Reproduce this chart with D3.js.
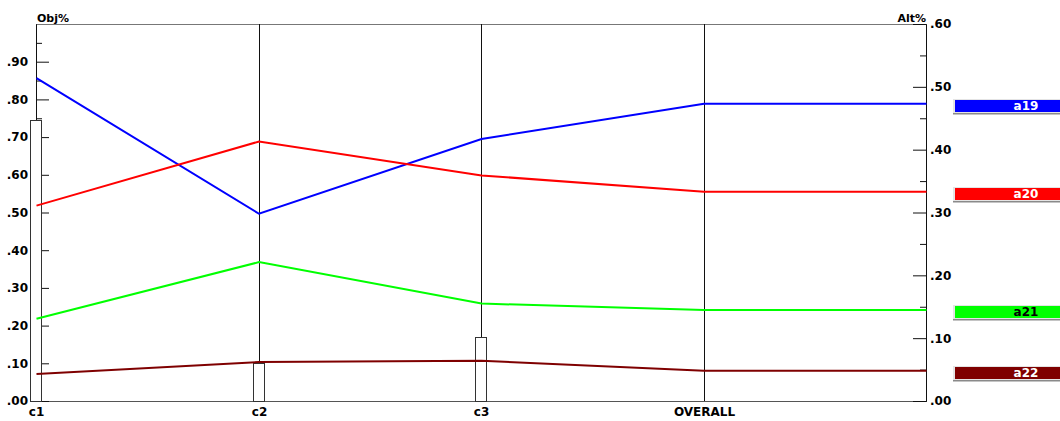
<!DOCTYPE html>
<html><head><meta charset="utf-8">
<script src="https://cdn.jsdelivr.net/npm/d3@7"></script>
<style>
body{margin:0;background:#fff;}
svg{display:block;}
text{font-family:"DejaVu Sans",sans-serif;font-weight:bold;}
</style>
</head><body>
<svg id="chart" width="1060" height="421"></svg>
<script>
// ---- data ----
const categories = ["c1", "c2", "c3", "OVERALL"];
const criteriaWeights = [0.745, 0.10, 0.17];           // Obj% bars (c1..c3)
const seriesNames = ["a19", "a20", "a21", "a22"];
const a19 = [0.514, 0.298, 0.417, 0.473];               // Alt%
const a20 = [0.311, 0.413, 0.359, 0.333];
const a21 = [0.131, 0.221, 0.155, 0.145];
const a22 = [0.043, 0.062, 0.064, 0.048];
const seriesColors = ["#0000ff", "#ff0000", "#00ff00", "#7f0000"];
const legendTextColors = ["#ffffff", "#ffffff", "#000000", "#ffffff"];
const objMajorTicks = [0, 0.1, 0.2, 0.3, 0.4, 0.5, 0.6, 0.7, 0.8, 0.9];
const objMinorTicks = [0.05, 0.15, 0.25, 0.35, 0.45, 0.55, 0.65, 0.75, 0.85, 0.95];
const altMajorTicks = [0, 0.1, 0.2, 0.3, 0.4, 0.5, 0.6];
const altMinorTicks = [0.05, 0.15, 0.25, 0.35, 0.45, 0.55];

const seriesValues = [a19, a20, a21, a22];

// ---- layout ----
const svg = d3.select("#chart");
const X0 = 36, X1 = 926, Y0 = 401, Y1 = 24;
const x = d3.scaleLinear().domain([0, categories.length]).range([X0, X1]);
const yL = d3.scaleLinear().domain([0, 1]).range([Y0, Y1]);
const yR = d3.scaleLinear().domain([0, 0.6]).range([Y0, Y1]);
const fmt = d => d3.format(".2f")(d).replace(/^0/, "");

// frame top / bottom
svg.append("line").attr("x1", X0).attr("x2", X1 + 1).attr("y1", Y1 + 0.5).attr("y2", Y1 + 0.5)
  .attr("stroke", "#777").attr("stroke-width", 1);
svg.append("line").attr("x1", X0).attr("x2", X1 + 1).attr("y1", Y0 + 0.5).attr("y2", Y0 + 0.5)
  .attr("stroke", "#555").attr("stroke-width", 1);

// category verticals
svg.selectAll("line.vert").data(categories.slice(1)).enter().append("line")
  .attr("class", "vert")
  .attr("x1", (d, i) => Math.round(x(i + 1)) + 0.5)
  .attr("x2", (d, i) => Math.round(x(i + 1)) + 0.5)
  .attr("y1", Y1).attr("y2", Y0)
  .attr("stroke", "#111").attr("stroke-width", 1);

// axes
function styleAxis(g) {
  g.select(".domain").attr("stroke", "#111");
  g.selectAll(".tick line").attr("stroke", "#111");
  g.selectAll("text").attr("font-size", 12).attr("font-family", "DejaVu Sans, sans-serif")
    .attr("font-weight", "bold").attr("fill", "#000");
}
const gL = svg.append("g").attr("transform", `translate(${X0},0)`)
  .call(d3.axisLeft(yL).tickValues(objMajorTicks).tickSizeInner(-13).tickSizeOuter(0).tickPadding(8).tickFormat(fmt));
styleAxis(gL);
const gLm = svg.append("g").attr("transform", `translate(${X0},0)`)
  .call(d3.axisLeft(yL).tickValues(objMinorTicks).tickSizeInner(-6).tickSizeOuter(0).tickFormat(""));
styleAxis(gLm);
const gR = svg.append("g").attr("transform", `translate(${X1},0)`)
  .call(d3.axisRight(yR).tickValues(altMajorTicks).tickSizeInner(-13).tickSizeOuter(0).tickPadding(4).tickFormat(fmt));
styleAxis(gR);
const gRm = svg.append("g").attr("transform", `translate(${X1},0)`)
  .call(d3.axisRight(yR).tickValues(altMinorTicks).tickSizeInner(-6).tickSizeOuter(0).tickFormat(""));
styleAxis(gRm);

// axis titles
svg.append("text").attr("x", X0 + 1).attr("y", 22).attr("font-size", 11).text("Obj%");
svg.append("text").attr("x", X1).attr("y", 22).attr("font-size", 11).attr("text-anchor", "end").text("Alt%");

// criteria weight bars
svg.selectAll("rect.bar").data(criteriaWeights).enter().append("rect")
  .attr("class", "bar")
  .attr("x", (d, i) => Math.round(x(i)) - 5.5)
  .attr("y", d => Math.round(yL(d)) + 0.5)
  .attr("width", 11)
  .attr("height", d => Y0 - Math.round(yL(d)))
  .attr("fill", "#fff").attr("stroke", "#333").attr("stroke-width", 1);

// series lines (last value extends to right axis)
const line = d3.line().x(d => x(d[0]) + 0.5).y(d => yR(d[1]));
seriesValues.forEach((vals, k) => {
  const pts = vals.map((v, i) => [i, v]);
  pts.push([categories.length, vals[vals.length - 1]]);
  svg.append("path").datum(pts).attr("d", line)
    .attr("fill", "none").attr("stroke", seriesColors[k]).attr("stroke-width", 2);
});

// legend boxes at OVERALL values
seriesValues.forEach((vals, k) => {
  const cy = yR(vals[vals.length - 1]);
  const top = Math.round(cy) - 5;
  const g = svg.append("g");
  g.append("rect").attr("x", 953).attr("y", top).attr("width", 160).attr("height", 15).attr("fill", "#e4e4e4");
  g.append("rect").attr("x", 955).attr("y", top + 1).attr("width", 160).attr("height", 12).attr("fill", seriesColors[k]);
  g.append("rect").attr("x", 953).attr("y", top + 14).attr("width", 160).attr("height", 1.5).attr("fill", "#8a8a8a");
  g.append("text").attr("x", 1026).attr("y", top + 7).attr("dy", "0.36em")
    .attr("text-anchor", "middle").attr("font-size", 12).attr("fill", legendTextColors[k])
    .text(seriesNames[k]);
});

// category labels
svg.selectAll("text.cat").data(categories).enter().append("text")
  .attr("class", "cat")
  .attr("x", (d, i) => Math.round(x(i)) + 0.5)
  .attr("y", 416)
  .attr("text-anchor", "middle").attr("font-size", 12)
  .text(d => d);
</script>
</body></html>
